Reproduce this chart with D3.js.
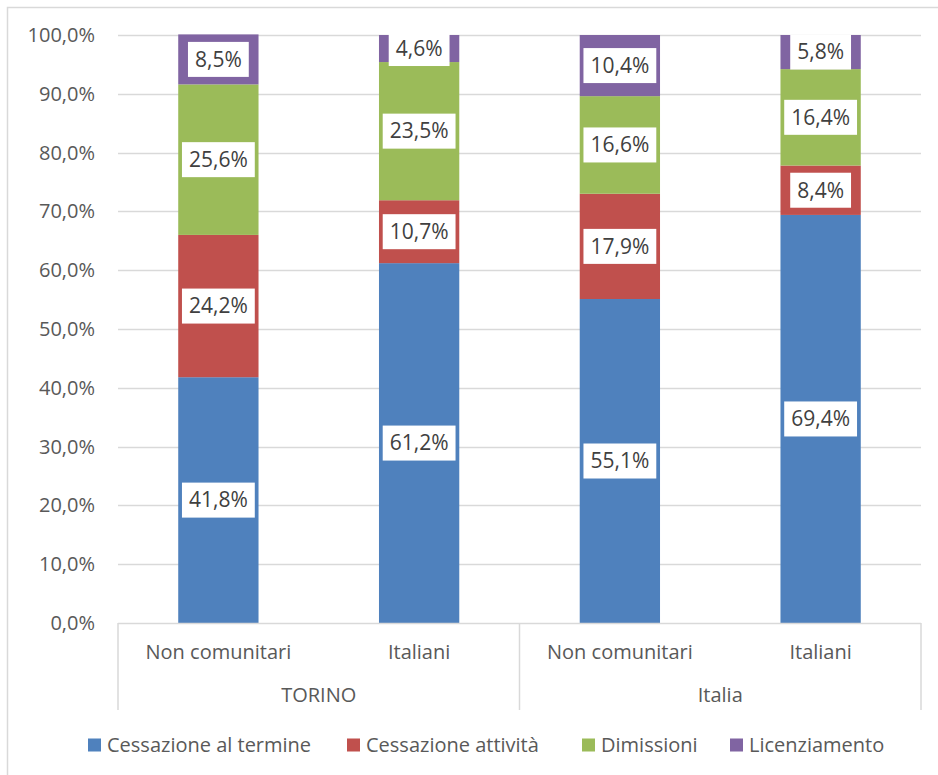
<!DOCTYPE html>
<html>
<head>
<meta charset="utf-8">
<script src="https://cdn.jsdelivr.net/npm/d3@7"></script>
<style>
  html, body { margin: 0; padding: 0; background: #fff; }
  svg { display: block; font-family: "Open Sans", "Noto Sans", sans-serif; }
</style>
</head>
<body>
<svg id="chart" width="938" height="775"></svg>
<script>
// Bars (inner category) and their outer groups
const bars = ["Non comunitari", "Italiani", "Non comunitari", "Italiani"];
const groups = ["TORINO", "Italia"];

// Series, stacked bottom to top (percent)
const seriesNames = ["Cessazione al termine", "Cessazione attività", "Dimissioni", "Licenziamento"];
const cessazioneTermine = [41.8, 61.2, 55.1, 69.4];
const cessazioneAttivita = [24.2, 10.7, 17.9, 8.4];
const dimissioni = [25.6, 23.5, 16.6, 16.4];
const licenziamento = [8.5, 4.6, 10.4, 5.8];
const seriesColors = ["#4F81BD", "#C0504D", "#9BBB59", "#8064A2"];

const yTicks = [0, 10, 20, 30, 40, 50, 60, 70, 80, 90, 100];

const rows = bars.map((b, i) => ({
  idx: i,
  s0: cessazioneTermine[i],
  s1: cessazioneAttivita[i],
  s2: dimissioni[i],
  s3: licenziamento[i]
}));
const keys = ["s0", "s1", "s2", "s3"];

const svg = d3.select("#chart");
const fmt = v => d3.format(".1f")(v).replace(".", ",") + "%";
const textColor = "#595959";
const fontSize = 20;

// outer frame
svg.append("rect")
  .attr("x", 7.5).attr("y", 7.5)
  .attr("width", 940).attr("height", 780)
  .attr("fill", "none").attr("stroke", "#d9d9d9").attr("stroke-width", 1.5);

const plotLeft = 118, plotRight = 921, plotTop = 35, plotBottom = 623;

const x = d3.scaleBand().domain(d3.range(bars.length)).range([plotLeft, plotRight]).paddingInner(0.6).paddingOuter(0.3);
const y = d3.scaleLinear().domain([0, 100]).range([plotBottom, plotTop]);

// gridlines
svg.append("g").selectAll("line").data(yTicks.filter(t => t > 0)).join("line")
  .attr("x1", plotLeft).attr("x2", plotRight)
  .attr("y1", d => Math.round(y(d)) + 0.5).attr("y2", d => Math.round(y(d)) + 0.5)
  .attr("stroke", "#d9d9d9").attr("stroke-width", 1.5);

// y axis labels
const yAxis = d3.axisLeft(y).tickValues(yTicks).tickFormat(fmt).tickSize(0).tickPadding(0);
const gy = svg.append("g").attr("transform", `translate(${95},0)`).call(yAxis);
gy.select(".domain").remove();
gy.selectAll("text").attr("font-size", fontSize).attr("fill", textColor).attr("font-family", '"Open Sans", sans-serif');

// stacked bars
const stack = d3.stack().keys(keys)(rows);
const layers = svg.append("g").selectAll("g").data(stack).join("g")
  .attr("fill", (d, i) => seriesColors[i]);
layers.selectAll("rect").data(d => d).join("rect")
  .attr("x", d => x(d.data.idx))
  .attr("width", x.bandwidth())
  .attr("y", d => y(d[1]))
  .attr("height", d => y(d[0]) - y(d[1]));

// category axis: baseline and separators
const axisG = svg.append("g").attr("stroke", "#d9d9d9").attr("stroke-width", 1.5);
axisG.append("line").attr("x1", plotLeft).attr("x2", plotRight).attr("y1", plotBottom + 0.5).attr("y2", plotBottom + 0.5);
const groupEdges = [plotLeft, (x(1) + x.bandwidth() + x(2)) / 2, plotRight];
groupEdges.forEach(gx => {
  axisG.append("line").attr("x1", gx).attr("x2", gx).attr("y1", plotBottom).attr("y2", 710);
});

// inner category labels
svg.append("g").selectAll("text").data(bars).join("text")
  .attr("x", (d, i) => x(i) + x.bandwidth() / 2)
  .attr("y", 652)
  .attr("dy", "0.35em")
  .attr("text-anchor", "middle")
  .attr("font-size", fontSize).attr("fill", textColor)
  .text(d => d);

// outer group labels
svg.append("g").selectAll("text").data(groups).join("text")
  .attr("x", (d, g) => (groupEdges[g] + groupEdges[g + 1]) / 2)
  .attr("y", 695)
  .attr("dy", "0.35em")
  .attr("text-anchor", "middle")
  .attr("font-size", fontSize).attr("fill", textColor)
  .text(d => d);

// value labels in white boxes
const labelG = svg.append("g");
stack.forEach(layer => {
  layer.forEach(d => {
    const v = d[1] - d[0];
    const cx = x(d.data.idx) + x.bandwidth() / 2;
    const cy = (y(d[0]) + y(d[1])) / 2;
    const t = labelG.append("text")
      .attr("x", cx).attr("y", cy)
      .attr("dy", "0.35em")
      .attr("text-anchor", "middle")
      .attr("font-size", 21).attr("fill", "#404040")
      .text(fmt(v));
    const w = t.node().getComputedTextLength();
    labelG.insert("rect", "text")
      .attr("x", cx - w / 2 - 7).attr("y", cy - 17.5)
      .attr("width", w + 14).attr("height", 35)
      .attr("fill", "#fff");
  });
});

// legend
const legendX = [88, 347, 582, 730];
const lg = svg.append("g").selectAll("g").data(seriesNames).join("g")
  .attr("transform", (d, i) => `translate(${legendX[i]},745)`);
lg.append("rect").attr("x", 0).attr("y", -6.5).attr("width", 13).attr("height", 13)
  .attr("fill", (d, i) => seriesColors[i]);
lg.append("text").attr("x", 19).attr("dy", "0.35em")
  .attr("font-size", fontSize).attr("fill", textColor)
  .text(d => d);
</script>
</body>
</html>
